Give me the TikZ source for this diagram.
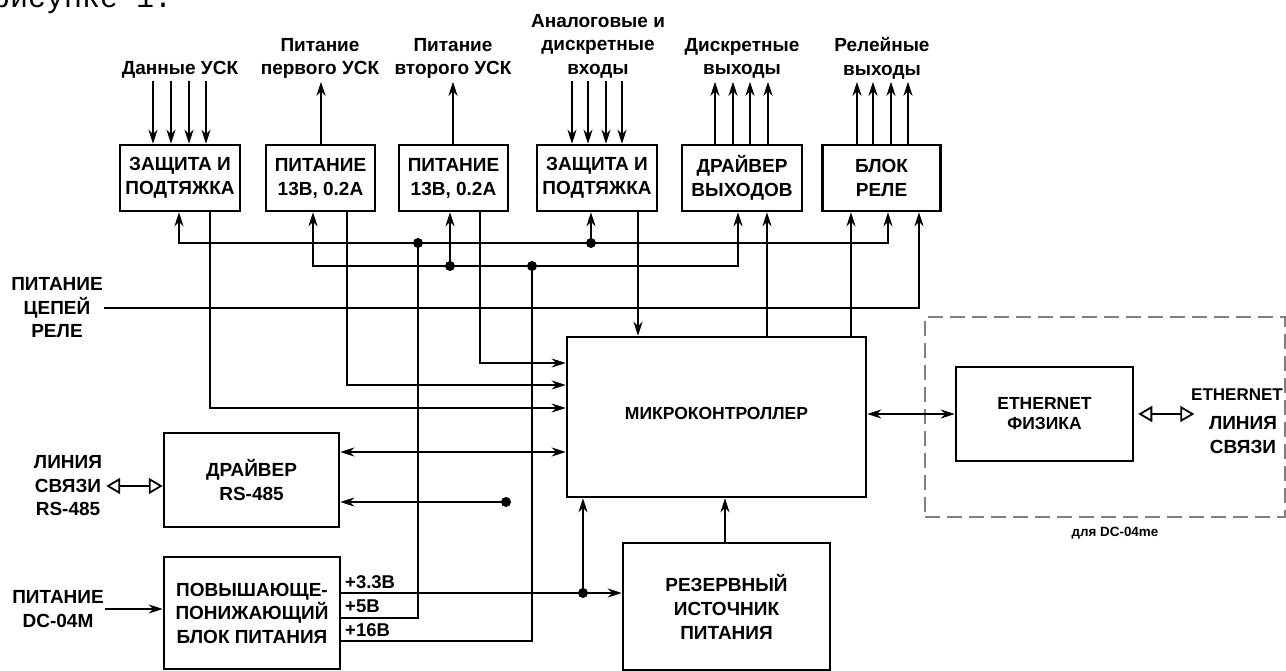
\documentclass[tikz,border=0pt]{standalone}
\usepackage{fontspec}
\setmainfont{Liberation Sans}
\newfontfamily\monofont{Liberation Mono}
\usetikzlibrary{arrows.meta}
\begin{document}
\begin{tikzpicture}[x=1pt,y=-1pt,
  >={Stealth[length=14pt,width=9pt]},
  box/.style={draw,line width=2.5pt,inner sep=0pt,align=center,font=\bfseries\fontsize{19}{24}\selectfont},
  lbl/.style={inner sep=1pt,align=center,font=\bfseries\fontsize{19}{23.5}\selectfont},
  vlbl/.style={inner sep=0pt,anchor=west,font=\bfseries\fontsize{18.5}{20}\selectfont},
  wire/.style={line width=2.1pt},
  dot/.style={circle,fill,inner sep=0pt,minimum size=10pt},
  hollow/.style={line width=1.8pt,{Triangle[open,length=14pt,width=16pt]}-{Triangle[open,length=14pt,width=16pt]}}
]
\useasboundingbox (0,0) rectangle (1286,671);
\begin{scope}
\clip (0,0) rectangle (1286,671);
\node[anchor=base west,inner sep=0pt,font=\monofont\fontsize{30}{30}\selectfont] (frag) at (-8,8) {рисунке 1.};
\end{scope}

% boxes
\node[box,minimum width=120pt,minimum height=66pt] (b1) at (180,178) {ЗАЩИТА И\\ПОДТЯЖКА};
\node[box,minimum width=109pt,minimum height=66pt] (b2) at (320.5,178) {ПИТАНИЕ\\13В, 0.2А};
\node[box,minimum width=109pt,minimum height=66pt] (b3) at (453.5,178) {ПИТАНИЕ\\13В, 0.2А};
\node[box,minimum width=120pt,minimum height=66pt] (b4) at (597,178) {ЗАЩИТА И\\ПОДТЯЖКА};
\node[box,minimum width=120pt,minimum height=66pt] (b5) at (742,178) {ДРАЙВЕР\\ВЫХОДОВ};
\node[box,minimum width=118pt,minimum height=66pt] (b6) at (881.5,178) {БЛОК\\РЕЛЕ};
\node[box,minimum width=299pt,minimum height=160pt,
  label={[inner sep=0pt,yshift=4pt,font=\bfseries\fontsize{17.5}{20}\selectfont]center:МИКРОКОНТРОЛЛЕР}] (mcu) at (716.5,417) {};
\node[box,minimum width=175pt,minimum height=94pt] (drv) at (251.5,480) {ДРАЙВЕР\\RS-485};
\node[box,minimum width=176pt,minimum height=112pt,font=\bfseries\fontsize{19}{23.5}\selectfont] (psu) at (252,613) {ПОВЫШАЮЩЕ-\\ПОНИЖАЮЩИЙ\\БЛОК ПИТАНИЯ};
\node[box,minimum width=207pt,minimum height=127pt] (res) at (726.5,606.5) {РЕЗЕРВНЫЙ\\ИСТОЧНИК\\ПИТАНИЯ};
\node[box,minimum width=177pt,minimum height=94pt,font=\bfseries\fontsize{17.5}{20}\selectfont] (eth) at (1044.5,414) {ETHERNET\\ФИЗИКА};
\node[draw=gray,line width=1.3pt,dash pattern=on 15pt off 7pt,minimum width=360pt,minimum height=200pt,inner sep=0pt] (frame) at (1105,417) {};
\node[inner sep=0pt,font=\bfseries\fontsize{13.4}{15}\selectfont] (fnote) at (1115,533) {для DC-04me};

% labels
\node[lbl] (l1) at (180,70) {Данные УСК};
\node[lbl] (l2) at (320,58.5) {Питание\\первого УСК};
\node[lbl] (l3) at (453,58.5) {Питание\\второго УСК};
\node[lbl] (l4) at (598,46) {Аналоговые и\\дискретные\\входы};
\node[lbl] (l5) at (742,58.5) {Дискретные\\выходы};
\node[lbl] (l6) at (882,58.5) {Релейные\\выходы};
\node[lbl] (lrp) at (57,308) {ПИТАНИЕ\\ЦЕПЕЙ\\РЕЛЕ};
\node[lbl] (lrs) at (68,486) {ЛИНИЯ\\СВЯЗИ\\RS-485};
\node[lbl] (lpw) at (58,609) {ПИТАНИЕ\\DC-04M};
\node[lbl,font=\bfseries\fontsize{17}{20}\selectfont] (le1) at (1237,395) {ETHERNET};
\node[lbl] (le2) at (1243,435) {ЛИНИЯ\\СВЯЗИ};
\node[vlbl] (v33) at (345,582) {+3.3В};
\node[vlbl] (v5) at (345,606) {+5В};
\node[vlbl] (v16) at (345,630) {+16В};

% top inputs / outputs
\foreach \dx in {-27,-9,9,26} \draw[wire,->] ([xshift=\dx,yshift=63]b1.north) -- ([xshift=\dx]b1.north);
\draw[wire,->] ([xshift=0.5]b2.north) -- ([xshift=0.5,yshift=62]b2.north);
\draw[wire,->] ([xshift=-0.5]b3.north) -- ([xshift=-0.5,yshift=62]b3.north);
\foreach \dx in {-25,-9,9,25} \draw[wire,->] ([xshift=\dx,yshift=63]b4.north) -- ([xshift=\dx]b4.north);
\foreach \dx in {-27,-9,8,26} \draw[wire,->] ([xshift=\dx]b5.north) -- ([xshift=\dx,yshift=62]b5.north);
\foreach \dx in {-24.5,-8.5,9.5,26.5} \draw[wire,->] ([xshift=\dx]b6.north) -- ([xshift=\dx,yshift=62]b6.north);

% buses
\coordinate (bA) at (0,243);
\coordinate (bB) at (0,266);
\draw[wire,<->] ([xshift=-1]b1.south) -- ([xshift=-1]b1.south |- bA) -- ([xshift=6.5]b6.south |- bA) -- ([xshift=6.5]b6.south);
\draw[wire,<->] ([xshift=-7.5]b2.south) -- ([xshift=-7.5]b2.south |- bB) -- ([xshift=-4]b5.south |- bB) -- ([xshift=-4]b5.south);
\node[dot] (dA1) at (418,243) {};
\node[dot] (dA2) at (591,243) {};
\node[dot] (dB1) at (450,266) {};
\node[dot] (dB2) at (532,266) {};
\draw[wire,->] (dA2.center) -- (dA2 |- b4.south);
\draw[wire,->] (dB1.center) -- (dB1 |- b3.south);

% power lines
\draw[wire] ([yshift=-5]psu.east) -| (dA1.center);
\draw[wire] ([yshift=-28]psu.east) -| (dB2.center);
\node[dot] (d33) at (583,593) {};
\draw[wire,->] ([yshift=20]psu.east) -- ([yshift=20]psu.east -| res.west);
\draw[wire,->] (d33.center) -- (d33 |- mcu.south);
\draw[wire,->] ([xshift=-1.5]res.north) -- ([xshift=-1.5]res.north |- mcu.south);

% to microcontroller
\draw[wire,->] ([xshift=30]b1.south) |- ([yshift=9]mcu.west);
\draw[wire,->] ([xshift=26.5]b2.south) |- ([yshift=32]mcu.west);
\draw[wire,->] ([xshift=26.5]b3.south) |- ([yshift=54]mcu.west);
\draw[wire,->] ([xshift=41]b4.south) -- ([xshift=41]b4.south |- mcu.north);
\draw[wire,->] ([xshift=25]b5.south |- mcu.north) -- ([xshift=25]b5.south);
\draw[wire,->] ([xshift=-30.5]b6.south |- mcu.north) -- ([xshift=-30.5]b6.south);
\draw[wire,->] (lrp.east) -| ([xshift=37.5]b6.south);

% RS-485
\draw[wire,<->] ([yshift=28]drv.east) -- ([yshift=28]drv.east -| mcu.west);
\node[dot] (dr) at (506,502) {};
\draw[wire,->] (dr.center) -- (dr -| drv.east);
\draw[hollow] ([xshift=3]lrs.east) -- (lrs.east -| drv.west);

% power input
\draw[wire,->] (lpw.east) -- (lpw.east -| psu.west);

% ethernet
\draw[wire,<->] (mcu.east |- eth.west) -- (eth.west);
\draw[hollow] ([xshift=4]eth.east) -- ([xshift=60]eth.east);
\end{tikzpicture}
\end{document}
